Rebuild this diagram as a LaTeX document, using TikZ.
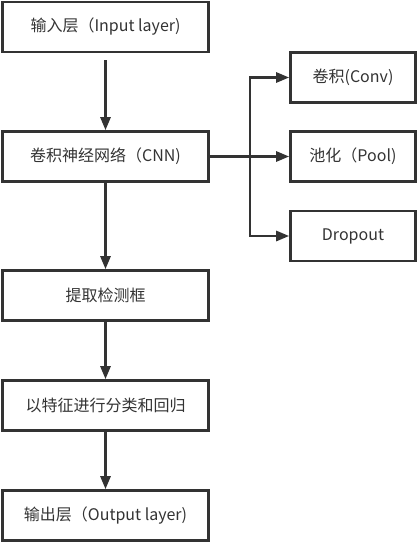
\documentclass[tikz,border=0pt]{standalone}
\usepackage{fontspec}
\setmainfont{Noto Sans CJK SC}
\usetikzlibrary{arrows.meta}
\definecolor{ink}{HTML}{333333}
\begin{document}
\begin{tikzpicture}[x=1pt, y=-1pt,
                    box_style/.style={draw=ink, line width=2.6pt, text=ink, font=\fontsize{16}{18}\selectfont, minimum height=50pt, inner sep=0pt},
                    main_box/.style={box_style, minimum width=206pt},
                    side_box/.style={box_style, minimum width=125pt},
                    edge_style/.style={-{Triangle[length=13pt, width=10pt]}, draw=ink, line width=2.6pt}
   ]
   \useasboundingbox (0,0) rectangle (419,543);
   % Main column
   \node[main_box] (in) at (105.5,27) {输入层（Input layer)};
   \node[main_box] (cnn) at (105.5,156.5) {卷积神经网络（CNN)};
   \node[main_box] (box) at (105.5,295.5) {提取检测框};
   \node[main_box] (cls) at (105.5,405.5) {以特征进行分类和回归};
   \node[main_box] (out) at (105.5,515.5) {输出层（Output layer)};
   % CNN parts
   \node[side_box] (conv) at (353,77.5) {卷积(Conv)};
   \node[side_box] (pool) at (353,156.5) {池化（Pool)};
   \node[side_box] (drop) at (353,236) {Dropout};
   \coordinate (br) at (250,156.5);

    \draw[edge_style, shorten <=7pt]  (in) -- (cnn);
    \draw[edge_style]  (cnn) -- (box);
    \draw[edge_style]  (box) -- (cls);
    \draw[edge_style]  (cls) -- (out);
    \draw[edge_style]  (cnn) -- (pool);
    \draw[edge_style]  (cnn) -- (br) |- (conv);
    \draw[edge_style]  (cnn) -- (br) |- (drop);
\end{tikzpicture}
\end{document}
